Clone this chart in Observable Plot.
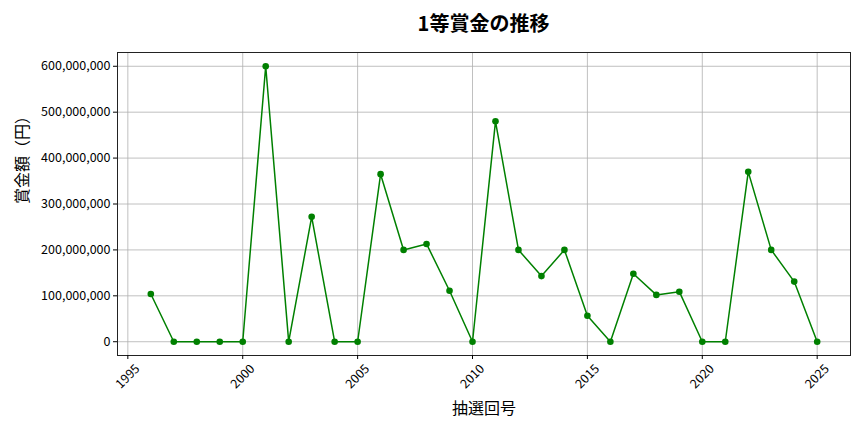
<!DOCTYPE html>
<html>
<head>
<meta charset="utf-8">
<script src="https://cdn.jsdelivr.net/npm/d3@7"></script>
<script src="https://cdn.jsdelivr.net/npm/@observablehq/plot@0.6"></script>
<style>
  body { margin: 0; background: #fff; font-family: "Noto Sans CJK JP", "Noto Sans", sans-serif; }
  #title { height: 44px; line-height: 46px; box-sizing: border-box; padding-left: 117px; padding-right: 14px; text-align: center; font-size: 20px; font-weight: bold; color: #000; }
</style>
</head>
<body>
<div id="title">1等賞金の推移</div>
<div id="chart"></div>
<script>
const years = [1996,1997,1998,1999,2000,2001,2002,2003,2004,2005,2006,2007,2008,2009,2010,2011,2012,2013,2014,2015,2016,2017,2018,2019,2020,2021,2022,2023,2024,2025];
const prizes = [104e6,0,0,0,0,600e6,0,272e6,0,0,365e6,200e6,213e6,111e6,0,480e6,200e6,143e6,200e6,56.5e6,0,148e6,102e6,109e6,0,0,370e6,200e6,131e6,0];
const xTicks = [1995,2000,2005,2010,2015,2020,2025];
const yTicks = [0,100e6,200e6,300e6,400e6,500e6,600e6];
const xLabel = "抽選回号";
const yLabel = "賞金額（円）";

const data = years.map((y, i) => ({year: y, prize: prizes[i]}));
const fmt = d3.format(",");
const font = "Noto Sans CJK JP";

const chart = Plot.plot({
  width: 864,
  height: 388,
  marginTop: 8,
  marginBottom: 77,
  marginLeft: 117,
  marginRight: 14,
  style: {fontFamily: font, fontSize: "12.5px", color: "#000", background: "#fff"},
  x: {domain: [1994.55, 2026.45], ticks: xTicks},
  y: {domain: [-30e6, 630e6], ticks: yTicks},
  marks: [
    Plot.gridX(xTicks, {stroke: "#b0b0b0", strokeOpacity: 1, strokeWidth: 0.8}),
    Plot.gridY(yTicks, {stroke: "#b0b0b0", strokeOpacity: 1, strokeWidth: 0.8}),
    Plot.frame({stroke: "#222", strokeWidth: 1}),
    Plot.axisY(yTicks, {tickFormat: fmt, tickSize: 4, tickPadding: 3, label: null, fontSize: 12.5}),
    Plot.axisX(xTicks, {tickSize: 4, tickFormat: () => "", label: null}),
    Plot.text(xTicks, {x: d => d, text: d => String(d), frameAnchor: "bottom", dy: 21, rotate: -45, textAnchor: "middle", lineAnchor: "middle", fontSize: 12.5}),
    Plot.text([xLabel], {text: d => d, frameAnchor: "bottom", dy: 53, lineAnchor: "middle", fontSize: 16}),
    Plot.text([yLabel], {text: d => d, frameAnchor: "left", dx: -95, rotate: -90, lineAnchor: "middle", fontSize: 16}),
    Plot.line(data, {x: "year", y: "prize", stroke: "#008000", strokeWidth: 1.5}),
    Plot.dot(data, {x: "year", y: "prize", fill: "#008000", r: 3.3})
  ]
});
document.getElementById("chart").append(chart);
</script>
</body>
</html>
